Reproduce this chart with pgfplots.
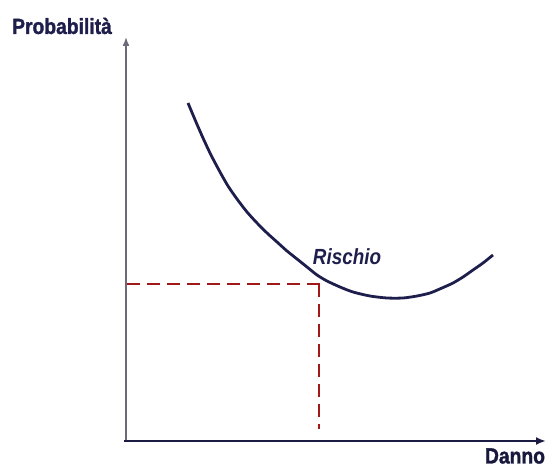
\documentclass[border=0pt]{standalone}
\usepackage{pgfplots}
\pgfplotsset{compat=1.18}
\usepackage{fontspec}
\setmainfont{Liberation Sans}[BoldFeatures={FakeBold=1.5}]
\usetikzlibrary{arrows.meta}
\definecolor{navy}{HTML}{1E1E4C}
\definecolor{dred}{HTML}{A01818}
\definecolor{axgray}{HTML}{6A6A78}
\begin{document}
\begin{tikzpicture}
\begin{axis}[
  scale only axis, width=554bp, height=468bp,
  xmin=0, xmax=554, ymin=0, ymax=468,
  hide axis, clip=false,
]
% y axis
\addplot[axgray, line width=1.6bp, -{Latex[length=9bp,width=7bp]}] coordinates {(126,27) (126,431)};
% x axis
\addplot[navy!90!black, line width=2.6bp, -{Latex[length=10bp,width=8bp]}] coordinates {(124,27) (546,27)};
% dashed lines
\addplot[dred, line width=1.8bp, dash pattern=on 13bp off 7bp] coordinates {(127,184) (320,184)};
\addplot[dred, line width=1.8bp, dash pattern=on 13bp off 7bp] coordinates {(319,184) (319,39)};
% curve
\addplot[navy, line width=2.8bp, smooth, tension=0.45] coordinates {
(188,365) (196,346) (203,330) (211,313) (220,296) (228,282) (237,269) (247,256) (257,245) (267,235) (277,226) (287,217) (297,209) (307,201) (317,193) (327,187)
(340,181) (353,176) (370,172) (387,170) (403,170) (417,172) (430,175) (442,180) (453,185) (463,191) (473,198) (483,205) (493,213)};
\node[font=\bfseries\fontsize{22}{24}\selectfont, text=navy, xscale=0.88] at (axis cs:62,442) {Probabilità};
\node[font=\bfseries\fontsize{22}{24}\selectfont, text=navy!80!black, xscale=0.88] at (axis cs:515,12) {Danno};
\node[font=\bfseries\itshape\fontsize{22}{24}\selectfont, text=navy, xscale=0.86] at (axis cs:347,211) {Rischio};
\end{axis}
\pgfresetboundingbox
\useasboundingbox (current axis.south west) rectangle (current axis.north east);
\end{tikzpicture}
\end{document}
